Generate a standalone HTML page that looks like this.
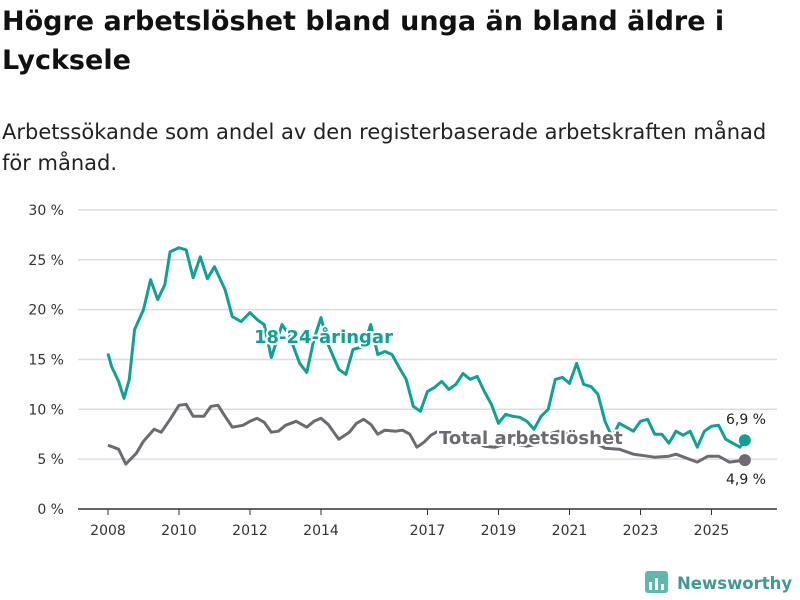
<!DOCTYPE html>
<html><head><meta charset="utf-8">
<style>
body{margin:0;background:#fff;width:800px;height:600px;overflow:hidden;font-family:"DejaVu Sans",sans-serif;}
#title{position:absolute;left:2px;top:2px;font-size:27px;font-weight:bold;color:#111;line-height:39px;width:760px;}
#sub{position:absolute;left:2px;top:117px;font-size:21px;color:#222;line-height:31px;width:790px;}
svg{position:absolute;left:0;top:0;}
</style></head><body>
<div id="title">Högre arbetslöshet bland unga än bland äldre i Lycksele</div>
<div id="sub">Arbetssökande som andel av den registerbaserade arbetskraften månad för månad.</div>
<svg id="chart" width="800" height="600"></svg>
<script>
const youthT=[2008.0,2008.1,2008.3,2008.45,2008.6,2008.75,2009.0,2009.2,2009.4,2009.6,2009.75,2010.0,2010.2,2010.4,2010.6,2010.8,2011.0,2011.3,2011.5,2011.75,2012.0,2012.2,2012.4,2012.6,2012.9,2013.1,2013.4,2013.6,2013.8,2014.0,2014.2,2014.5,2014.7,2014.9,2015.2,2015.4,2015.6,2015.8,2016.0,2016.2,2016.4,2016.6,2016.8,2017.0,2017.2,2017.4,2017.6,2017.8,2018.0,2018.2,2018.4,2018.6,2018.8,2019.0,2019.2,2019.4,2019.6,2019.8,2020.0,2020.2,2020.4,2020.6,2020.8,2021.0,2021.2,2021.4,2021.6,2021.8,2022.0,2022.2,2022.4,2022.6,2022.8,2023.0,2023.2,2023.4,2023.6,2023.8,2024.0,2024.2,2024.4,2024.6,2024.8,2025.0,2025.2,2025.4,2025.6,2025.8,2025.94];
const youthV=[15.6,14.3,12.8,11.1,13,18,20,23,21,22.5,25.8,26.2,26,23.2,25.3,23.1,24.3,22,19.3,18.8,19.7,19,18.5,15.2,18.5,17.5,14.6,13.7,17,19.2,16.5,14,13.5,16,16.3,18.5,15.5,15.8,15.5,14.2,13,10.3,9.8,11.8,12.2,12.8,12,12.5,13.6,13,13.3,11.8,10.5,8.6,9.5,9.3,9.2,8.8,8,9.3,10,13,13.2,12.6,14.6,12.5,12.3,11.5,8.8,7.2,8.6,8.2,7.8,8.8,9,7.5,7.5,6.6,7.8,7.4,7.8,6.2,7.8,8.3,8.4,7,6.6,6.2,6.9];
const totalT=[2008.0,2008.3,2008.5,2008.8,2009.0,2009.3,2009.5,2009.75,2010.0,2010.2,2010.4,2010.7,2010.9,2011.1,2011.3,2011.5,2011.8,2012.0,2012.2,2012.4,2012.6,2012.8,2013.0,2013.3,2013.6,2013.8,2014.0,2014.2,2014.5,2014.8,2015.0,2015.2,2015.4,2015.6,2015.8,2016.1,2016.3,2016.5,2016.7,2016.9,2017.1,2017.3,2017.5,2017.8,2018.0,2018.3,2018.6,2018.9,2019.2,2019.5,2019.8,2020.1,2020.4,2020.7,2021.0,2021.3,2021.6,2021.8,2022.0,2022.4,2022.8,2023.0,2023.4,2023.8,2024.0,2024.3,2024.6,2024.9,2025.2,2025.5,2025.94];
const totalV=[6.4,6,4.5,5.6,6.8,8,7.7,9,10.4,10.5,9.3,9.3,10.3,10.4,9.3,8.2,8.4,8.8,9.1,8.7,7.7,7.8,8.4,8.8,8.2,8.8,9.1,8.5,7,7.7,8.6,9,8.5,7.5,7.9,7.8,7.9,7.5,6.2,6.7,7.4,7.8,7.5,7.3,7,6.8,6.3,6.2,6.5,6.5,6.3,6.5,7.5,7.8,7.5,7.2,6.8,6.5,6.1,6,5.5,5.4,5.2,5.3,5.5,5.1,4.7,5.3,5.3,4.7,4.9];
const yTicks=[0,5,10,15,20,25,30];
const xTicks=[2008,2010,2012,2014,2017,2019,2021,2023,2025];
const NS='http://www.w3.org/2000/svg';
const svg=document.getElementById('chart');
const X=t=>108+(t-2008)*35.5;
const Y=v=>509-v*9.97;
const F='DejaVu Sans, sans-serif';
function mk(tag,attrs,parent){const e=document.createElementNS(NS,tag);for(const k in attrs)e.setAttribute(k,attrs[k]);(parent||svg).appendChild(e);return e;}
yTicks.forEach(v=>{
  const l=mk('line',{x1:78,x2:777,y1:Y(v),y2:Y(v),stroke:v===0?'#333':'#ddd','stroke-width':1.5});
  
  
  const t=mk('text',{x:64,y:Y(v)+5,'text-anchor':'end','font-size':14,fill:'#333','font-family':F});
  t.textContent=v+' %';
  
  
});
xTicks.forEach(yr=>{
  const tk=mk('line',{x1:X(yr),x2:X(yr),y1:509,y2:515,stroke:'#333','stroke-width':1});
  
  
  const t=mk('text',{x:X(yr),y:535,'text-anchor':'middle','font-size':14,fill:'#333','font-family':F});
  t.textContent=yr;
  
  
});
function line(T,V,color,name){
  const d=T.map((t,i)=>(i?'L':'M')+X(t).toFixed(1)+','+Y(V[i]).toFixed(1)).join('');
  const p=mk('path',{d:d,fill:'none',stroke:color,'stroke-width':3,'stroke-linejoin':'round'});
  
  
  const n=T.length-1;
  const c=mk('circle',{cx:X(T[n]),cy:Y(V[n]),r:6,fill:color});
  
  
}
line(totalT,totalV,'#6d6a72','total-line');
line(youthT,youthV,'#10a196','youth-line');
function lab(x,y,txt,color,name,size,w,anchor){
  const t=mk('text',{x:x,y:y,'font-size':size,'font-weight':w,fill:color,stroke:'#fff','stroke-width':4,'paint-order':'stroke','text-anchor':anchor||'start','font-family':F});
  t.textContent=txt;
  
  
}
lab(254,343,'18-24-åringar','#10a196','youth-series-label',18,'bold');
lab(439,444,'Total arbetslöshet','#6d6a72','total-series-label',18,'bold');
lab(766,424,'6,9 %','#222','youth-end-value',14,'normal','end');
lab(766,484,'4,9 %','#222','total-end-value',14,'normal','end');
const g=mk('g',{});


mk('rect',{x:645,y:571,width:23,height:22,rx:3,fill:'#5fb8ad'},g);
mk('rect',{x:649,y:582,width:3,height:8,fill:'#fff'},g);
mk('rect',{x:655,y:578,width:3,height:12,fill:'#fff'},g);
mk('rect',{x:661,y:584,width:3,height:6,fill:'#fff'},g);
const lt=mk('text',{x:677,y:589,'font-size':16.5,'font-weight':'bold',fill:'#3e9a92','font-family':F},g);
lt.textContent='Newsworthy';
</script>
</body></html>
